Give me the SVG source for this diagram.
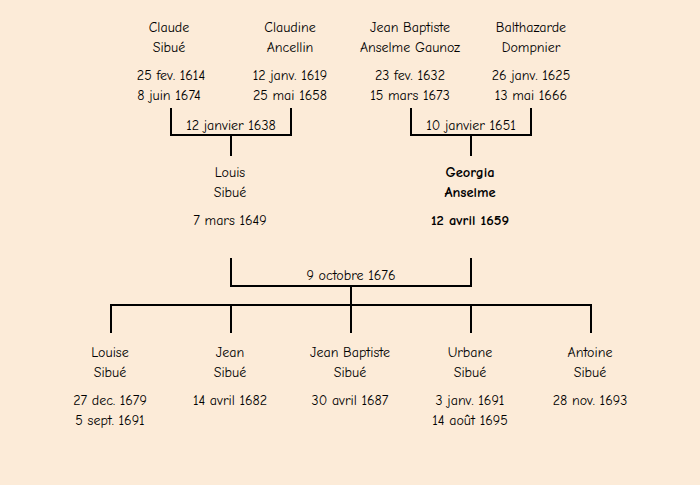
<svg xmlns="http://www.w3.org/2000/svg" width="700" height="485" viewBox="0 0 700 485">
<style>
text{font-family:"Comic Neue","Liberation Sans","DejaVu Sans",sans-serif;font-size:14px;fill:#000;text-anchor:middle}
.b{font-weight:bold;font-size:14.5px}
.ln{stroke:#000;stroke-width:2;fill:none}
</style>
<rect width="700" height="485" fill="#FCEBD8"/>
<g id="connectors">
<path class="ln" d="M171,108V135H291V108M231,135V156"/>
<path class="ln" d="M411,108V135H531V108M471,135V156"/>
<path class="ln" d="M231,258V286H471V258M351,286V305"/>
<path class="ln" d="M111,333V305H591V333M231,305V333M351,305V333M471,305V333"/>
</g>
<g id="claude"><text x="169" y="32">Claude</text><text x="169" y="52">Sibué</text><text x="171" y="80">25 fev. 1614</text><text x="169" y="100">8 juin 1674</text></g>
<g id="claudine"><text x="290" y="32">Claudine</text><text x="290" y="52">Ancellin</text><text x="290" y="80">12 janv. 1619</text><text x="290" y="100">25 mai 1658</text></g>
<g id="jeanbaptiste"><text x="410" y="32">Jean Baptiste</text><text x="410" y="52">Anselme Gaunoz</text><text x="410" y="80">23 fev. 1632</text><text x="410" y="100">15 mars 1673</text></g>
<g id="balthazarde"><text x="531" y="32">Balthazarde</text><text x="531" y="52">Dompnier</text><text x="531" y="80">26 janv. 1625</text><text x="531" y="100">13 mai 1666</text></g>
<g id="m1"><text x="231" y="130">12 janvier 1638</text></g>
<g id="m2"><text x="471" y="130">10 janvier 1651</text></g>
<g id="louis"><text x="230" y="177">Louis</text><text x="230" y="197">Sibué</text><text x="230" y="225">7 mars 1649</text></g>
<g id="georgia"><text class="b" x="470" y="177">Georgia</text><text class="b" x="470" y="197">Anselme</text><text class="b" x="470" y="225">12 avril 1659</text></g>
<g id="m3"><text x="351" y="280">9 octobre 1676</text></g>
<g id="louise"><text x="110" y="357">Louise</text><text x="110" y="377">Sibué</text><text x="110" y="405">27 dec. 1679</text><text x="110" y="425">5 sept. 1691</text></g>
<g id="jean"><text x="230" y="357">Jean</text><text x="230" y="377">Sibué</text><text x="230" y="405">14 avril 1682</text></g>
<g id="jeanbaptiste2"><text x="350" y="357">Jean Baptiste</text><text x="350" y="377">Sibué</text><text x="350" y="405">30 avril 1687</text></g>
<g id="urbane"><text x="470" y="357">Urbane</text><text x="470" y="377">Sibué</text><text x="470" y="405">3 janv. 1691</text><text x="470" y="425">14 août 1695</text></g>
<g id="antoine"><text x="590" y="357">Antoine</text><text x="590" y="377">Sibué</text><text x="590" y="405">28 nov. 1693</text></g>
</svg>
